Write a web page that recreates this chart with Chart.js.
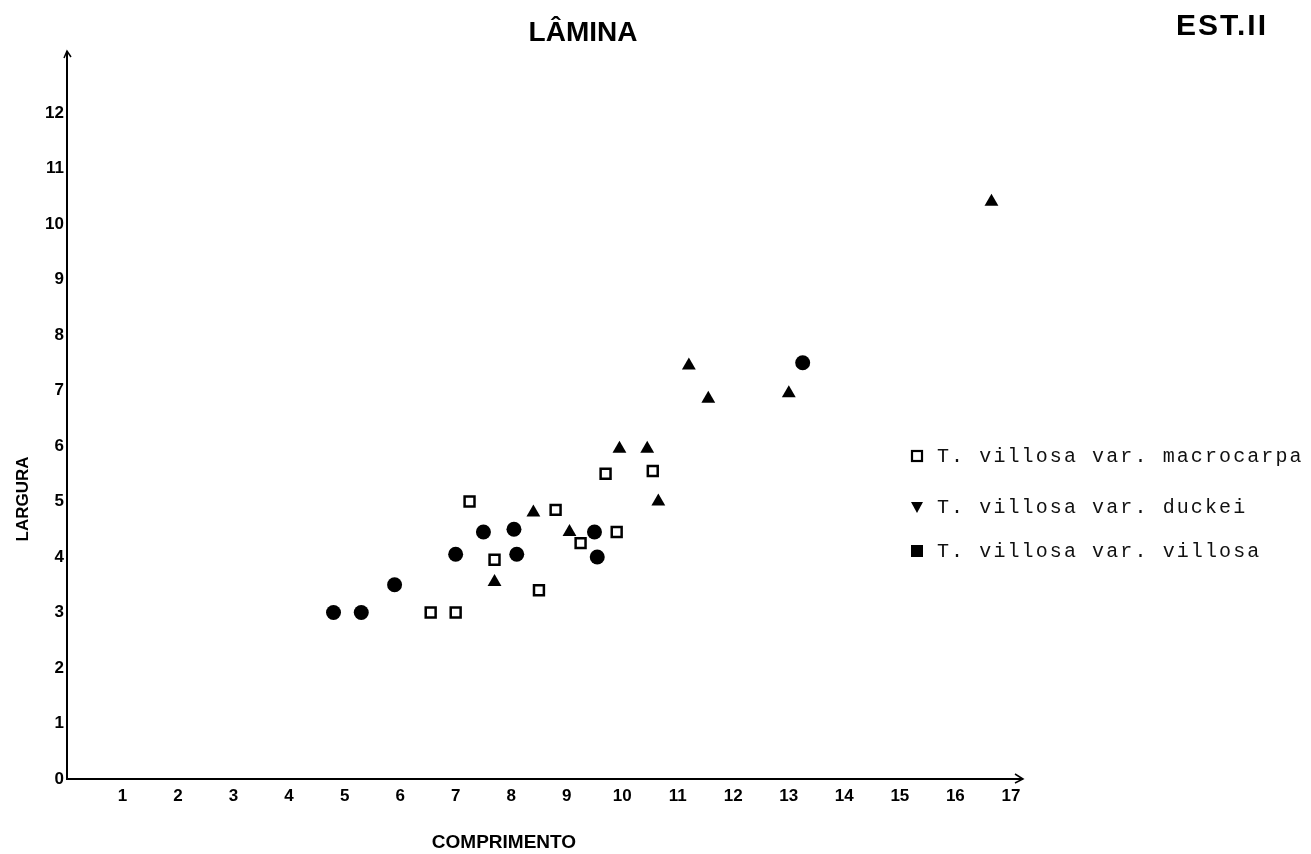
<!DOCTYPE html>
<html>
<head>
<meta charset="utf-8">
<title>LÂMINA</title>
<script src="https://cdn.jsdelivr.net/npm/chart.js@4.4.1/dist/chart.umd.min.js"></script>
<style>
    html, body { margin: 0; padding: 0; background: #fff; }
    #wrap { width: 1311px; height: 854px; position: relative; }
</style>
</head>
<body>
<div id="wrap"><canvas id="laminaChart"></canvas></div>
<script>
// comprimento (x) e largura (y) da lâmina, por variedade
const macrocarpaX = [6.55, 7.0, 7.25, 7.7, 8.5, 8.8, 9.25, 9.7, 9.9, 10.55];
const macrocarpaY = [3.0, 3.0, 5.0, 3.95, 3.4, 4.85, 4.25, 5.5, 4.45, 5.55];

const duckeiX = [7.7, 8.4, 9.05, 9.95, 10.45, 10.65, 11.2, 11.55, 13.0, 16.65];
const duckeiY = [3.55, 4.8, 4.45, 5.95, 5.95, 5.0, 7.45, 6.85, 6.95, 10.4];

const villosaX = [4.8, 5.3, 5.9, 7.0, 7.5, 8.05, 8.1, 9.5, 9.55, 13.25];
const villosaY = [3.0, 3.0, 3.5, 4.05, 4.45, 4.5, 4.05, 4.45, 4.0, 7.5];

const seriesLabels = ['T. villosa var. macrocarpa', 'T. villosa var. duckei', 'T. villosa var. villosa'];
const xTicks = [1, 2, 3, 4, 5, 6, 7, 8, 9, 10, 11, 12, 13, 14, 15, 16, 17];
const yTicks = [0, 1, 2, 3, 4, 5, 6, 7, 8, 9, 10, 11, 12];

const chartTitle = 'LÂMINA';
const plateLabel = 'EST.II';
const xTitle = 'COMPRIMENTO';
const yTitle = 'LARGURA';

const toPoints = (xs, ys) => xs.map((x, i) => ({ x: x, y: ys[i] }));

const tickFont = { family: 'Liberation Sans', size: 17, weight: 'bold' };

// titles, axis arrows and the legend box at the right
const decorPlugin = {
    id: 'decor',
    afterDraw(chart) {
        const ctx = chart.ctx;
        const area = chart.chartArea;
        ctx.save();
        ctx.fillStyle = '#000';
        ctx.strokeStyle = '#000';
        ctx.textAlign = 'center';
        ctx.textBaseline = 'middle';

        ctx.font = 'bold 28px "Liberation Sans"';
        ctx.fillText(chartTitle, 583, 33);

        ctx.font = 'bold 30px "Liberation Sans"';
        ctx.letterSpacing = '2px';
        ctx.fillText(plateLabel, 1222, 27);
        ctx.letterSpacing = '0px';

        ctx.font = 'bold 19px "Liberation Sans"';
        ctx.fillText(xTitle, 504, 843);

        ctx.save();
        ctx.translate(23, 499);
        ctx.rotate(-Math.PI / 2);
        ctx.font = 'bold 17px "Liberation Sans"';
        ctx.fillText(yTitle, 0, 0);
        ctx.restore();

        // arrow heads
        ctx.lineWidth = 1.5;
        ctx.beginPath();
        ctx.moveTo(area.right - 7, area.bottom - 5);
        ctx.lineTo(area.right + 1, area.bottom);
        ctx.lineTo(area.right - 7, area.bottom + 4);
        ctx.stroke();
        ctx.beginPath();
        ctx.moveTo(area.left - 3, area.top + 6);
        ctx.lineTo(area.left, area.top - 1);
        ctx.lineTo(area.left + 4, area.top + 5);
        ctx.stroke();

        // legend (its symbols differ from the plotted ones, as in the original)
        const rows = [456, 507, 551];
        const mx = 917;
        chart.data.datasets.forEach((ds, i) => {
            const y = rows[i];
            ctx.lineWidth = 2.2;
            if (i === 0) {
                ctx.strokeRect(mx - 5, y - 5, 10, 10);
            } else if (i === 1) {
                ctx.beginPath();
                ctx.moveTo(mx - 6, y - 5);
                ctx.lineTo(mx + 6, y - 5);
                ctx.lineTo(mx, y + 6);
                ctx.closePath();
                ctx.fill();
            } else {
                ctx.fillRect(mx - 6, y - 6, 12, 12);
            }
            ctx.font = '20px "Liberation Mono"';
            ctx.letterSpacing = '2.1px';
            ctx.textAlign = 'left';
            ctx.fillStyle = '#111';
            ctx.fillText(ds.label, 937, y + 1);
            ctx.fillStyle = '#000';
            ctx.letterSpacing = '0px';
        });
        ctx.restore();
    }
};

new Chart(document.getElementById('laminaChart'), {
    type: 'scatter',
    data: {
        datasets: [
            {
                label: seriesLabels[0],
                data: toPoints(macrocarpaX, macrocarpaY),
                pointStyle: 'rect',
                pointRadius: 7,
                backgroundColor: '#fff',
                borderColor: '#000',
                borderWidth: 2.5
            },
            {
                label: seriesLabels[1],
                data: toPoints(duckeiX, duckeiY),
                pointStyle: 'triangle',
                pointRadius: 8,
                backgroundColor: '#000',
                borderColor: '#000',
                borderWidth: 0
            },
            {
                label: seriesLabels[2],
                data: toPoints(villosaX, villosaY),
                pointStyle: 'circle',
                pointRadius: 7.5,
                backgroundColor: '#000',
                borderColor: '#000',
                borderWidth: 0
            }
        ]
    },
    options: {
        responsive: true,
        maintainAspectRatio: false,
        animation: false,
        events: [],
        layout: { padding: { top: 52, right: 289, bottom: 35, left: 0 } },
        plugins: {
            legend: { display: false },
            tooltip: { enabled: false },
            title: { display: false }
        },
        scales: {
            x: {
                type: 'linear',
                min: 0,
                max: 17.2,
                afterBuildTicks: axis => { axis.ticks = xTicks.map(v => ({ value: v })); },
                afterFit: axis => { axis.height = 40; },
                grid: { display: false, drawTicks: false },
                border: { display: true, color: '#000', width: 2 },
                ticks: { color: '#000', font: tickFont, padding: 7, autoSkip: false, maxRotation: 0 }
            },
            y: {
                type: 'linear',
                min: 0,
                max: 13.1,
                afterBuildTicks: axis => { axis.ticks = yTicks.map(v => ({ value: v })); },
                afterFit: axis => { axis.width = 67; },
                grid: { display: false, drawTicks: false },
                border: { display: true, color: '#000', width: 2 },
                ticks: { color: '#000', font: tickFont, padding: 3 }
            }
        }
    },
    plugins: [decorPlugin]
});
</script>
</body>
</html>
